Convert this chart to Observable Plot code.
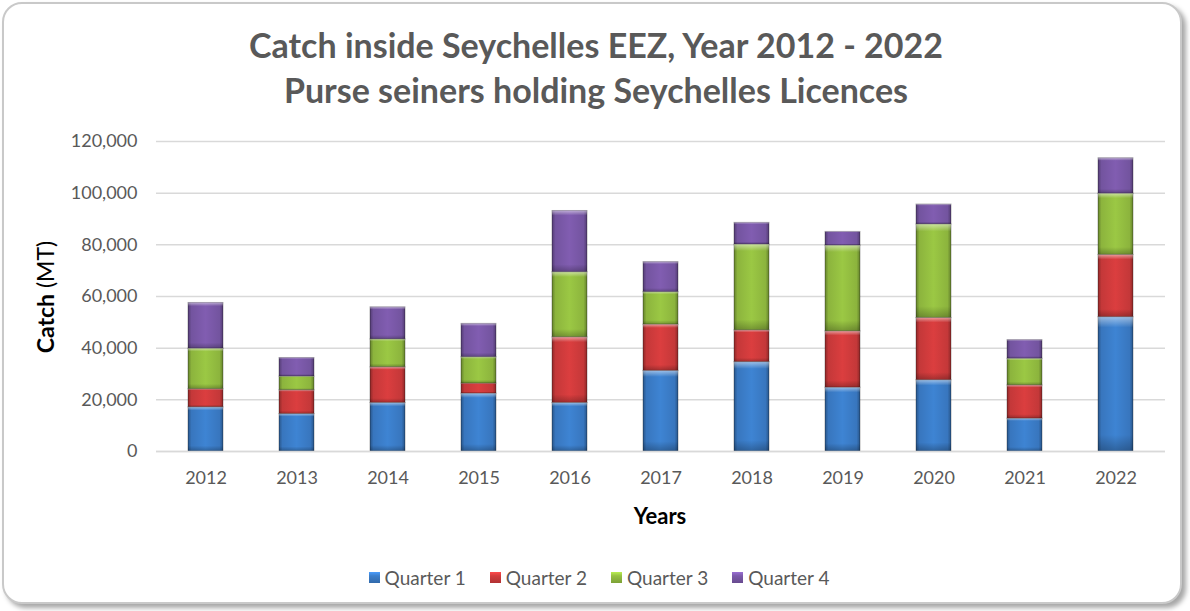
<!DOCTYPE html>
<html>
<head>
<meta charset="utf-8">
<script src="https://cdn.jsdelivr.net/npm/d3@7"></script>
<script src="https://cdn.jsdelivr.net/npm/@observablehq/plot@0.6"></script>
<style>
  html, body { margin: 0; padding: 0; background: #ffffff; width: 1190px; height: 611px; overflow: hidden; font-family: Lato, "Open Sans", sans-serif; }
  #card { position: absolute; left: 2px; top: 2px; width: 1176px; height: 598px; border: 2px solid #c9c9c9; border-radius: 20px; box-shadow: 4px 4px 5px rgba(0,0,0,0.35); background: #fff; }
  #title { position: absolute; left: 0; top: 22px; width: 1192px; text-align: center; color: #595959; font-weight: bold; font-size: 34px; line-height: 45px; }
  #chart { position: absolute; left: 0; top: 120px; }
  #ylabel { position: absolute; left: 45px; top: 297px; transform: translate(-50%, -50%) rotate(-90deg); white-space: nowrap; font-size: 23px; color: #000; }
  #xlabel { position: absolute; left: 660px; top: 515px; transform: translate(-50%, -50%); font-size: 22px; font-weight: bold; color: #000; }
  #legend { position: absolute; left: 0; top: 566px; width: 1198px; display: flex; justify-content: center; gap: 24px; font-size: 19px; color: #595959; }
  .item { display: flex; align-items: center; gap: 5px; }
  .sw { width: 11px; height: 11px; display: inline-block; }
</style>
</head>
<body>
<div id="card"></div>
<div id="title">Catch inside Seychelles EEZ, Year 2012 - 2022<br>Purse seiners holding Seychelles Licences</div>
<div id="chart"></div>
<div id="ylabel"><b>Catch</b> (MT)</div>
<div id="xlabel">Years</div>
<div id="legend"></div>
<script>
const years = ["2012","2013","2014","2015","2016","2017","2018","2019","2020","2021","2022"];
const quarters = ["Quarter 1","Quarter 2","Quarter 3","Quarter 4"];
const q1 = [17100, 14500, 18800, 22400, 18800, 31200, 34600, 24700, 27600, 12700, 52000];
const q2 = [7000, 9200, 13800, 3900, 25400, 17900, 12300, 21800, 24100, 12900, 24100];
const q3 = [15700, 5300, 10800, 10200, 25200, 12600, 33200, 33200, 36200, 10300, 23700];
const q4 = [17700, 7200, 12400, 12900, 23700, 11600, 8400, 5300, 7700, 7200, 13700];
const yTicks = [0, 20000, 40000, 60000, 80000, 100000, 120000];
const baseColors = ["#3c7fcc", "#d33c3d", "#96c142", "#7c5aab"];

const series = [q1, q2, q3, q4];
const data = years.flatMap((y, i) => quarters.map((q, j) => ({year: y, quarter: q, value: series[j][i]})));

const gradIds = ["gq1", "gq2", "gq3", "gq4"];

const plot = Plot.plot({
  width: 1190,
  height: 420,
  marginLeft: 156,
  marginRight: 25,
  marginTop: 21,
  marginBottom: 89,
  style: {fontFamily: "Lato, 'Open Sans', sans-serif", fontSize: "18px", color: "#595959", background: "transparent"},
  x: {domain: years, paddingInner: 0.61, paddingOuter: 0.305, label: null},
  y: {domain: [0, 120000], label: null},
  color: {domain: quarters, range: gradIds.map(d => `url(#${d})`)},
  marks: [
    Plot.gridY(yTicks, {stroke: "#d9d9d9", strokeOpacity: 1, strokeWidth: 1.5}),
    Plot.axisY({ticks: yTicks, tickSize: 0, tickPadding: 19, tickFormat: d3.format(","), label: null, fill: "#595959", fontSize: 18}),
    Plot.axisX({tickSize: 0, tickPadding: 20, label: null, fill: "#595959", fontSize: 18}),
    Plot.barY(data, {x: "year", y: "value", fill: "quarter", z: "quarter", order: quarters, stroke: "rgba(0,0,0,0.3)", strokeWidth: 1}),
    Plot.barY(data, {x: "year", y: "value", z: "quarter", order: quarters, fill: "url(#bevel)", stroke: "none"}),
    Plot.ruleY([0], {stroke: "#d9d9d9", strokeWidth: 1.5})
  ]
});

const defs = d3.select(plot).insert("defs", ":first-child");
baseColors.forEach((c, i) => {
  const base = d3.color(c);
  const g = defs.append("linearGradient").attr("id", gradIds[i]).attr("x1", 0).attr("x2", 1).attr("y1", 0).attr("y2", 0);
  g.append("stop").attr("offset", "0%").attr("stop-color", base.darker(1.1));
  g.append("stop").attr("offset", "10%").attr("stop-color", base.darker(0.2));
  g.append("stop").attr("offset", "50%").attr("stop-color", base.brighter(0.1));
  g.append("stop").attr("offset", "90%").attr("stop-color", base.darker(0.2));
  g.append("stop").attr("offset", "100%").attr("stop-color", base.darker(1.1));
});
const bv = defs.append("linearGradient").attr("id", "bevel").attr("x1", 0).attr("x2", 0).attr("y1", 0).attr("y2", 1);
bv.append("stop").attr("offset", "0%").attr("stop-color", "#fff").attr("stop-opacity", 0.5);
bv.append("stop").attr("offset", "8%").attr("stop-color", "#fff").attr("stop-opacity", 0.0);
bv.append("stop").attr("offset", "88%").attr("stop-color", "#000").attr("stop-opacity", 0.0);
bv.append("stop").attr("offset", "100%").attr("stop-color", "#000").attr("stop-opacity", 0.25);

document.getElementById("chart").appendChild(plot);

const legend = document.getElementById("legend");
quarters.forEach((q, i) => {
  const item = document.createElement("div");
  item.className = "item";
  const sw = document.createElement("span");
  sw.className = "sw";
  const c = d3.color(baseColors[i]);
  sw.style.background = `linear-gradient(to bottom, ${c.brighter(0.6)} 0%, ${c} 35%, ${c.darker(0.5)} 100%)`;
  const t = document.createElement("span");
  t.textContent = q;
  item.appendChild(sw);
  item.appendChild(t);
  legend.appendChild(item);
});
</script>
</body>
</html>
